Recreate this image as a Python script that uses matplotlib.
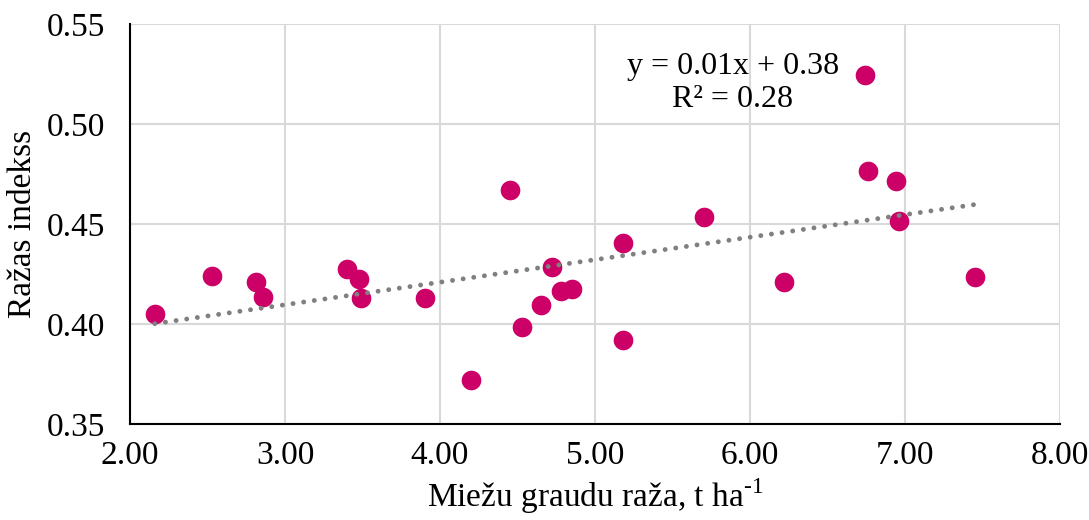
import numpy as np
import matplotlib.pyplot as plt

plt.rcParams['font.family'] = ['Liberation Serif', 'DejaVu Serif']
plt.rcParams['mathtext.fontset'] = 'custom'
plt.rcParams['mathtext.rm'] = 'Liberation Serif'

# grain yield (t/ha) and harvest index
yield_t = [2.16, 2.53, 2.81, 2.86, 3.40, 3.48, 3.49, 3.90, 4.20, 4.45,
           4.53, 4.65, 4.72, 4.78, 4.85, 5.18, 5.18, 5.70, 6.22, 6.74,
           6.76, 6.94, 6.96, 7.45]
harvest_idx = [0.405, 0.424, 0.421, 0.4135, 0.4275, 0.4225, 0.413, 0.413, 0.372, 0.467,
               0.3985, 0.4095, 0.4285, 0.4163, 0.4177, 0.3918, 0.4403, 0.4537, 0.421, 0.5245,
               0.4765, 0.4715, 0.4515, 0.4235]
eq_text = "y = 0.01x + 0.38\nR\u00b2 = 0.28"

fig = plt.figure(figsize=(10.89, 5.20), dpi=100)
ax = fig.add_axes([130 / 1089, 1 - 424 / 520, 930 / 1089, 400 / 520])

ax.scatter(yield_t, harvest_idx, s=200, color='#CC0066', zorder=3, linewidths=0)

# linear trend, dotted
k, b = np.polyfit(yield_t, harvest_idx, 1)
xs = np.array([min(yield_t), max(yield_t)])
ax.plot(xs, k * xs + b, color='#808080', linestyle=(0, (0.01, 2.2)),
        linewidth=3.5, dash_capstyle='round', zorder=4)

ax.text(5.89, 0.5205, eq_text, ha='center', va='center', fontsize=23,
        linespacing=1.15)

ax.set_xlim(2, 8)
ax.set_ylim(0.35, 0.55)
ax.set_xticks(np.arange(2, 8.01, 1))
ax.set_yticks(np.arange(0.35, 0.551, 0.05))
ax.xaxis.set_major_formatter(plt.FormatStrFormatter('%.2f'))
ax.yaxis.set_major_formatter(plt.FormatStrFormatter('%.2f'))
ax.tick_params(length=0, labelsize=24)
ax.tick_params(axis='x', pad=12)
ax.tick_params(axis='y', pad=18)
ax.grid(True, color='#D9D9D9', linewidth=1.5)
ax.set_axisbelow(True)

for side in ['top', 'right']:
    ax.spines[side].set_visible(False)
for side in ['left', 'bottom']:
    ax.spines[side].set_linewidth(1.5)
    ax.spines[side].set_zorder(5)

ax.set_xlabel('Miežu graudu raža, t ha$^{\\text{-1}}$', fontsize=24, labelpad=4)
ax.set_ylabel('Ražas indekss', fontsize=24, labelpad=6)

fig.savefig('out.png', dpi=100)
